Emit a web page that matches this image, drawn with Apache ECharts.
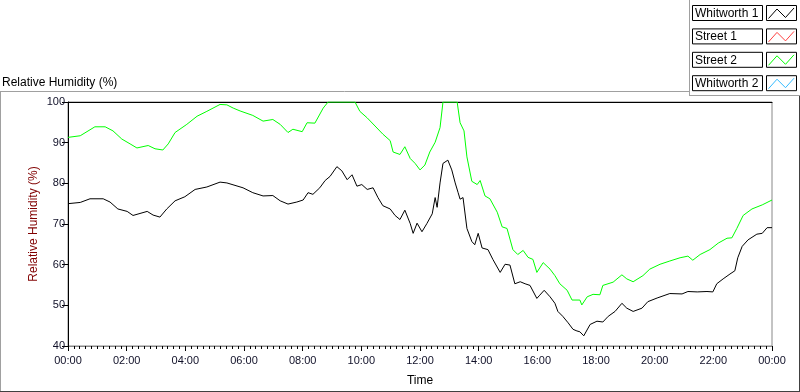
<!DOCTYPE html>
<html>
<head>
<meta charset="utf-8">
<script src="https://cdn.jsdelivr.net/npm/echarts@6/dist/echarts.min.js"></script>
<style>
  html, body { margin: 0; padding: 0; background: #fff; }
  #chart { width: 800px; height: 392px; }
</style>
</head>
<body>
<div id="chart"></div>
<script>
// minutes since midnight, humidity values
var whitworth1Times = [0, 25, 45, 72, 86, 102, 121, 133, 162, 174, 188, 202, 219, 239, 260, 284, 311, 325, 358, 378, 399, 419, 434, 450, 468, 481, 491, 501, 515, 526, 536, 550, 560, 571, 581, 591, 601, 612, 624, 634, 644, 659, 669, 679, 689, 700, 706, 714, 724, 734, 745, 751, 755, 761, 767, 777, 785, 792, 798, 802, 808, 816, 826, 832, 839, 847, 859, 869, 884, 894, 904, 914, 925, 935, 945, 959, 965, 974, 986, 996, 1002, 1012, 1023, 1033, 1041, 1047, 1055, 1068, 1082, 1094, 1105, 1119, 1133, 1143, 1156, 1174, 1186, 1205, 1231, 1256, 1268, 1287, 1307, 1319, 1327, 1340, 1354, 1364, 1370, 1379, 1391, 1409, 1420, 1430, 1440];
var whitworth1Values = [75.0, 75.3, 76.2, 76.2, 75.4, 73.7, 73.1, 72.1, 73.1, 72.2, 71.7, 73.7, 75.7, 76.7, 78.5, 79.1, 80.3, 80.1, 78.9, 77.7, 76.9, 77.0, 75.7, 74.9, 75.4, 75.9, 77.7, 77.3, 78.9, 80.7, 81.7, 84.1, 83.1, 80.9, 82.1, 79.3, 79.7, 78.5, 78.9, 76.5, 74.5, 73.7, 72.1, 71.1, 73.4, 70.1, 67.7, 70.2, 68.1, 70.1, 72.5, 76.5, 74.1, 80.1, 84.9, 85.7, 83.3, 80.1, 77.7, 76.1, 76.5, 68.9, 65.7, 64.9, 67.7, 64.1, 63.7, 61.3, 58.1, 60.1, 59.9, 55.3, 55.8, 55.3, 54.9, 51.7, 52.5, 53.7, 52.1, 50.5, 48.5, 47.3, 45.7, 44.1, 43.7, 43.5, 42.5, 45.3, 46.1, 45.9, 47.3, 48.5, 50.5, 49.3, 48.5, 49.3, 50.9, 51.8, 52.9, 52.8, 53.4, 53.3, 53.4, 53.3, 55.3, 56.5, 57.7, 58.5, 61.7, 64.5, 66.1, 67.5, 67.7, 69.1, 69.1];

var street2Times = [0, 25, 55, 76, 92, 110, 127, 141, 164, 178, 194, 205, 219, 243, 264, 284, 311, 325, 338, 352, 378, 399, 419, 434, 450, 460, 479, 489, 505, 522, 532, 587, 597, 612, 628, 644, 659, 665, 679, 689, 700, 710, 720, 730, 740, 751, 761, 767, 796, 802, 810, 816, 826, 837, 843, 853, 863, 878, 888, 898, 910, 920, 931, 941, 951, 959, 972, 986, 996, 1006, 1021, 1031, 1047, 1051, 1062, 1074, 1088, 1094, 1115, 1133, 1143, 1156, 1176, 1190, 1211, 1231, 1252, 1268, 1278, 1293, 1313, 1330, 1348, 1358, 1368, 1381, 1399, 1420, 1440];
var street2Values = [91.3, 91.7, 93.9, 93.9, 92.9, 90.9, 89.7, 88.7, 89.3, 88.5, 88.2, 89.7, 92.5, 94.5, 96.5, 97.7, 99.4, 99.3, 98.5, 97.8, 96.7, 95.3, 95.7, 94.5, 92.5, 93.3, 92.7, 94.9, 94.8, 98.5, 100, 100, 97.7, 96.1, 94.1, 92.1, 90.5, 87.7, 87.1, 89.0, 86.1, 84.9, 83.3, 84.5, 87.7, 90.1, 93.7, 100, 100, 94.9, 92.9, 86.5, 80.5, 79.7, 80.7, 76.9, 76.2, 72.9, 69.3, 68.9, 63.7, 62.5, 63.5, 61.8, 61.3, 58.1, 60.5, 58.9, 57.3, 55.3, 53.7, 51.3, 51.3, 50.1, 52.1, 52.7, 52.6, 54.9, 55.7, 57.5, 56.5, 55.8, 57.3, 58.9, 60.1, 60.9, 61.7, 62.1, 61.1, 62.5, 63.7, 65.3, 66.5, 66.6, 68.9, 72.1, 73.7, 74.7, 75.9];

var legendNames = ['Whitworth 1', 'Street 1', 'Street 2', 'Whitworth 2'];
var legendColors = ['#000000', '#ff4040', '#00ff00', '#33bbff'];

function pairs(ts, vs) {
  var out = [];
  for (var i = 0; i < ts.length; i++) out.push([ts[i], vs[i]]);
  return out;
}

// legend boxes, drawn by hand like the labview one
var legendGraphics = [];
for (var i = 0; i < legendNames.length; i++) {
  var y0 = 5 + i * 23.4;
  legendGraphics.push({
    type: 'rect', shape: { x: 692.5, y: y0 + 0.5, width: 70, height: 15 },
    style: { fill: '#fff', stroke: '#000', lineWidth: 1 }
  });
  legendGraphics.push({
    type: 'text', x: 695, y: y0 + 8.5,
    style: { text: legendNames[i], fill: '#000', font: '12px "Liberation Sans"', verticalAlign: 'middle' }
  });
  legendGraphics.push({
    type: 'rect', shape: { x: 766.5, y: y0 + 0.5, width: 30, height: 15 },
    style: { fill: '#fff', stroke: '#000', lineWidth: 1 }
  });
  legendGraphics.push({
    type: 'polyline',
    shape: { points: [[768.5, y0 + 13.5], [777, y0 + 4], [785.5, y0 + 12.5], [794, y0 + 3]] },
    style: { stroke: legendColors[i], lineWidth: 1, fill: null }
  });
}

var frameGraphics = [
  { type: 'line', shape: { x1: 0, y1: 91.5, x2: 689, y2: 91.5 }, style: { stroke: '#a0a0a0', lineWidth: 1 } },
  { type: 'line', shape: { x1: 689.5, y1: 0, x2: 689.5, y2: 96 }, style: { stroke: '#a0a0a0', lineWidth: 1 } },
  { type: 'line', shape: { x1: 689, y1: 95.5, x2: 800, y2: 95.5 }, style: { stroke: '#a0a0a0', lineWidth: 1 } },
  { type: 'line', shape: { x1: 0.5, y1: 92, x2: 0.5, y2: 392 }, style: { stroke: '#a0a0a0', lineWidth: 1 } },
  { type: 'line', shape: { x1: 0, y1: 391.5, x2: 800, y2: 391.5 }, style: { stroke: '#404040', lineWidth: 1 } },
  { type: 'line', shape: { x1: 799.5, y1: 96, x2: 799.5, y2: 392 }, style: { stroke: '#404040', lineWidth: 1 } }
];

var chart = echarts.init(document.getElementById('chart'));
var option = {
  backgroundColor: '#ffffff',
  animation: false,
  textStyle: { fontFamily: 'Liberation Sans' },
  title: {
    text: 'Relative Humidity (%)',
    left: 2, top: 77, padding: 0,
    textStyle: { fontSize: 12, fontWeight: 'normal', color: '#000', fontFamily: 'Liberation Sans' }
  },
  grid: {
    left: 68, top: 102, width: 704, height: 251,
    show: true, borderColor: '#888', borderWidth: 1, backgroundColor: '#fff'
  },
  xAxis: [{
    type: 'value', min: 0, max: 1440, interval: 120,
    name: 'Time', nameLocation: 'middle', nameGap: 29,
    nameTextStyle: { color: '#000', fontSize: 12 },
    axisLine: { show: true, lineStyle: { color: '#888', width: 1 } },
    axisTick: { show: true, length: 5, lineStyle: { color: '#000' } },
    minorTick: { show: true, splitNumber: 10, length: 3, lineStyle: { color: '#000' } },
    splitLine: { show: false },
    axisLabel: {
      color: '#101028', fontSize: 11, margin: 9,
      formatter: function (v) {
        var h = Math.round(v / 60) % 24;
        return (h < 10 ? '0' : '') + h + ':00';
      }
    }
  }, {
    type: 'value', min: 0, max: 1440, position: 'top',
    axisLine: { show: true, lineStyle: { color: '#000', width: 1 } },
    axisTick: { show: false }, axisLabel: { show: false }, splitLine: { show: false }
  }],
  yAxis: {
    type: 'value', min: 40, max: 100, interval: 10,
    name: 'Relative Humidity (%)', nameLocation: 'middle', nameGap: 28,
    nameMoveOverlap: false,
    nameTextStyle: { color: '#800000', fontSize: 12 },
    axisLine: { show: true, lineStyle: { color: '#000', width: 1 } },
    axisTick: { show: true, length: 6, lineStyle: { color: '#000' } },
    splitLine: { show: false },
    axisLabel: { color: '#101028', fontSize: 11, margin: 3 }
  },
  graphic: frameGraphics.concat(legendGraphics),
  series: [{
    name: 'Street 2', type: 'line', showSymbol: false,
    data: pairs(street2Times, street2Values),
    lineStyle: { color: '#00ff00', width: 1 }
  }, {
    name: 'Whitworth 1', type: 'line', showSymbol: false,
    data: pairs(whitworth1Times, whitworth1Values),
    lineStyle: { color: '#000000', width: 1 }
  }]
};
chart.setOption(option);
</script>
</body>
</html>
